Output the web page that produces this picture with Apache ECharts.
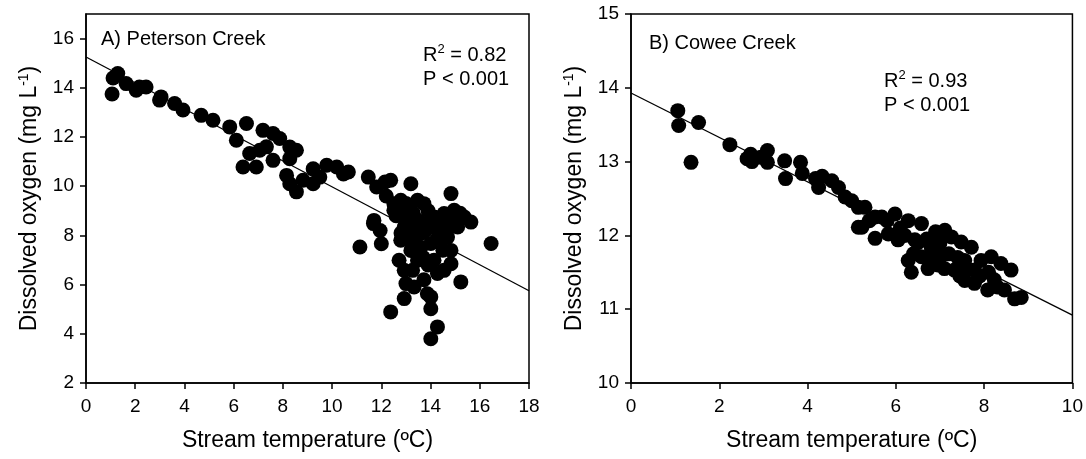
<!DOCTYPE html>
<html>
<head>
<meta charset="utf-8">
<script src="https://cdn.jsdelivr.net/npm/echarts@6/dist/echarts.min.js"></script>
<style>html,body{margin:0;padding:0;background:#fff}#c{width:1086px;height:459px}</style>
</head>
<body>
<div id="c"></div>
<script>
// Peterson Creek: [stream temperature °C, dissolved oxygen mg/L]
var petersonPoints = [
  [1.29,14.58],[1.06,13.75],[1.1,14.4],[1.63,14.17],[2.17,14.03],[2.44,14.03],[2.04,13.9],
  [3.05,13.63],[2.99,13.5],[3.6,13.36],[3.94,13.1],[4.68,12.88],[5.16,12.68],[5.84,12.41],
  [6.52,12.55],[6.11,11.87],[6.38,10.78],[6.92,10.78],[6.65,11.33],[7.19,12.27],[7.6,12.14],
  [7.87,11.94],[7.6,11.05],[7.06,11.46],[7.33,11.6],[8.28,11.59],[8.55,11.46],[8.28,11.12],
  [8.15,10.44],[8.28,10.1],[8.55,9.77],[8.82,10.24],[9.23,10.71],[9.23,10.1],[9.5,10.37],
  [9.78,10.85],[10.19,10.78],[10.66,10.58],[10.46,10.5],[11.47,10.37],[11.81,9.97],[12.15,10.17],
  [11.68,8.48],[11.95,8.2],[11.13,7.53],[12.0,7.66],[12.38,10.24],[13.2,10.1],[14.83,9.7],
  [16.46,7.67],[11.7,8.61],[12.51,9.02],[12.79,7.8],[12.93,6.58],[13.0,6.04],[12.93,5.43],
  [12.38,4.89],[14.01,5.02],[14.28,4.28],[14.01,3.8],[15.23,6.11],[14.83,6.85],[13.87,5.63],
  [13.73,6.2],[13.47,6.99],[14.28,6.45],[14.55,6.58],[13.2,7.39],[13.6,8.07],[14.01,7.67],
  [13.06,8.75],[13.47,9.43],[13.73,9.29],[12.79,9.43],[12.51,9.29],[14.55,8.89],[14.96,9.02],
  [15.37,8.75],[15.64,8.54],[15.1,8.34],[14.69,7.93],[14.41,8.48],[14.83,7.39],[14.14,8.75],
  [13.87,8.48],[13.33,8.21],[12.93,8.34],[14.14,6.99],[13.33,5.9],[14.01,5.5],[12.72,6.99],
  [13.27,6.58],[12.2,9.6],[12.9,9.0],[13.5,8.6],[13.1,7.9],[13.6,7.5],[14.3,7.9],[13.9,9.0],
  [14.6,8.2],[12.6,8.8],[13.3,8.9],[13.8,8.2],[13.4,7.6],[14.2,8.3],[13.0,9.3],[13.7,7.1],
  [14.5,7.4],[13.9,6.8],[12.8,8.1],[14.9,8.6],[15.2,8.9],[13.2,8.5]
];
// Cowee Creek
var coweePoints = [
  [1.06,13.69],[1.08,13.49],[1.53,13.53],[1.36,12.99],[2.24,13.23],[2.63,13.04],[2.74,13.0],
  [2.71,13.1],[2.94,13.06],[3.09,13.15],[3.09,12.99],[3.48,13.01],[3.5,12.77],[3.84,12.99],
  [3.88,12.84],[4.18,12.77],[4.33,12.8],[4.25,12.65],[4.55,12.74],[4.7,12.65],[4.85,12.52],
  [5.0,12.47],[5.15,12.38],[5.15,12.11],[5.3,12.38],[5.23,12.11],[5.53,11.96],[5.68,12.25],
  [5.98,12.29],[6.28,12.2],[6.58,12.16],[6.05,11.94],[6.28,11.66],[6.35,11.5],[6.73,11.55],
  [6.95,11.6],[6.8,11.84],[7.11,12.07],[7.26,11.98],[7.48,11.91],[7.71,11.84],[7.33,11.53],
  [7.56,11.39],[7.78,11.35],[7.93,11.66],[8.16,11.71],[8.38,11.62],[8.61,11.53],[8.23,11.4],
  [8.08,11.26],[8.46,11.26],[8.69,11.14],[8.84,11.16],[5.53,12.25],[5.83,12.02],[6.43,11.94],
  [6.95,11.84],[6.58,11.71],[7.56,11.66],[7.78,11.53],[6.9,12.05],[7.0,11.7],[6.1,12.1],
  [5.4,12.2],[5.8,12.2],[6.2,12.0],[6.5,11.9],[6.7,11.95],[7.0,11.9],[7.2,11.75],[7.4,11.7],
  [7.6,11.55],[7.9,11.45],[8.1,11.5],[8.3,11.3],[6.4,11.75],[6.75,11.7],[7.1,11.55],[7.45,11.45]
];
// Regression line endpoints
var petersonFit = [[0,15.25],[18,5.75]];
var coweeFit = [[0,13.93],[10,10.92]];
var petersonYTicks = [2,4,6,8,10,12,14,16];
var coweeYTicks = [10,11,12,13,14,15];

var FONT = '"Liberation Sans", Arial, sans-serif';
var chart = echarts.init(document.getElementById('c'));

function xAxis(idx, max, interval) {
  return {
    type: 'value', gridIndex: idx, min: 0, max: max, interval: interval,
    name: 'Stream temperature (ºC)', nameLocation: 'middle', nameGap: 46,
    nameTextStyle: {fontFamily: FONT, fontSize: 23, color: '#000'},
    axisLine: {show: true, onZero: false, lineStyle: {color: '#000', width: 1.5}},
    axisTick: {show: true, inside: false, length: 6, lineStyle: {color: '#000', width: 1.5}},
    axisLabel: {fontFamily: FONT, fontSize: 19, color: '#000', margin: 14},
    splitLine: {show: false}
  };
}
function yAxis(idx, min, max, interval, ticks) {
  return {
    type: 'value', gridIndex: idx, min: min, max: max, interval: interval,
    name: 'Dissolved oxygen (mg L{sup|-1})', nameLocation: 'middle', nameGap: 44,
    nameTextStyle: {fontFamily: FONT, fontSize: 23, color: '#000',
      rich: {sup: {fontFamily: FONT, fontSize: 14, color: '#000', verticalAlign: 'top', padding: [0,0,11,0]}}},
    axisLine: {show: true, onZero: false, lineStyle: {color: '#000', width: 1.5}},
    axisTick: {show: true, inside: false, length: 6, customValues: ticks, lineStyle: {color: '#000', width: 1.5}},
    axisLabel: {fontFamily: FONT, fontSize: 19, color: '#000', margin: 12, customValues: ticks},
    splitLine: {show: false}
  };
}

var annStyle = {fontFamily: FONT, fontSize: 20, fontWeight: 'normal', color: '#000', lineHeight: 24,
  rich: {sup: {fontFamily: FONT, fontSize: 13, color: '#000', verticalAlign: 'top', padding: [0,0,10,0]}}};

chart.setOption({
  animation: false,
  backgroundColor: '#fff',
  grid: [
    {left: 86, right: 557, top: 14, bottom: 76, show: true, borderColor: '#000', borderWidth: 1.5, backgroundColor: 'transparent'},
    {left: 631, right: 11, top: 14, bottom: 76, show: true, borderColor: '#000', borderWidth: 1.5, backgroundColor: 'transparent'}
  ],
  title: [
    {text: 'A) Peterson Creek', left: 96, top: 24, textStyle: {fontFamily: FONT, fontSize: 20, fontWeight: 'normal', color: '#000'}},
    {text: 'B) Cowee Creek', left: 644, top: 28, textStyle: {fontFamily: FONT, fontSize: 20, fontWeight: 'normal', color: '#000'}},
    {text: 'R{sup|2} = 0.82\nP < 0.001', left: 418, top: 38, textStyle: annStyle},
    {text: 'R{sup|2} = 0.93\nP < 0.001', left: 879, top: 64, textStyle: annStyle}
  ],
  xAxis: [xAxis(0, 18, 2), xAxis(1, 10, 2)],
  yAxis: [yAxis(0, 2, 17, 2, petersonYTicks), yAxis(1, 10, 15, 1, coweeYTicks)],
  series: [
    {type: 'line', xAxisIndex: 0, yAxisIndex: 0, data: petersonFit, symbol: 'none', lineStyle: {color: '#000', width: 1.3}, z: 1},
    {type: 'line', xAxisIndex: 1, yAxisIndex: 1, data: coweeFit, symbol: 'none', lineStyle: {color: '#000', width: 1.3}, z: 1},
    {type: 'scatter', xAxisIndex: 0, yAxisIndex: 0, data: petersonPoints, symbol: 'circle', symbolSize: 15, itemStyle: {color: '#000', opacity: 1}, z: 2},
    {type: 'scatter', xAxisIndex: 1, yAxisIndex: 1, data: coweePoints, symbol: 'circle', symbolSize: 15, itemStyle: {color: '#000', opacity: 1}, z: 2}
  ]
});
</script>
</body>
</html>
